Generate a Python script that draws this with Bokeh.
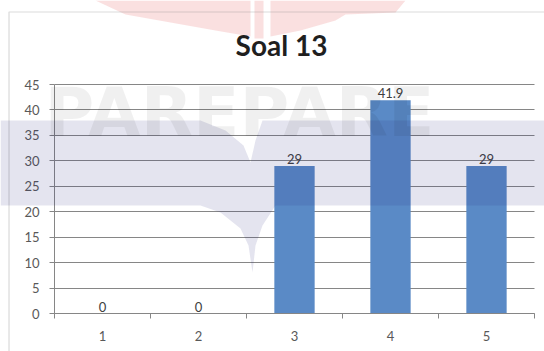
from bokeh.plotting import figure
from bokeh.models import (Range1d, FixedTicker, Label, BoxAnnotation, PolyAnnotation,
                          ColumnDataSource)
from bokeh.core.properties import value
from bokeh.embed import file_html
from bokeh.resources import INLINE

# ---- data -------------------------------------------------------------
categories = ["1", "2", "3", "4", "5"]
scores = [0, 0, 29, 41.9, 29]
y_ticks = [0, 5, 10, 15, 20, 25, 30, 35, 40, 45]
title_text = "Soal 13"
watermark_text = "PAREPARE"

# ---- layout constants (canvas pixels) ---------------------------------
W, H = 544, 351
PL, PR, PT, PB = 54, 534, 84, 313          # plot area edges inside the chart

FONT = "Lato"
AXIS_GRAY = "#868686"
LABEL_GRAY = "#595959"
BAR_BLUE = "#5a8ac6"

n = len(categories)
xs = [i + 1 for i in range(n)]
labels = [f"{v:g}" for v in scores]
src = ColumnDataSource(dict(x=xs, top=scores, label=labels))

# the frame fills the whole canvas; ranges are chosen so that the
# plot area (categories 0.5..n+0.5, values 0..45) lands on PL..PR / PT..PB
x_px = (PR - PL) / n
y_px = (PB - PT) / (y_ticks[-1] - y_ticks[0])
x_range = Range1d(0.5 - PL / x_px, n + 0.5 + (W - PR) / x_px)
y_range = Range1d(-(H - PB) / y_px, PB / y_px)

p = figure(width=W, height=H, output_backend="svg", toolbar_location=None,
           x_range=x_range, y_range=y_range,
           min_border=0, min_border_left=0, min_border_right=0,
           min_border_top=0, min_border_bottom=0)
p.outline_line_color = None
p.background_fill_color = "white"
p.border_fill_color = "white"


def sx(cx):
    """canvas x -> frame screen x"""
    return cx


def sy(cy):
    """canvas y -> frame screen y (upwards from the bottom)"""
    return H - cy


# faint logo shapes behind the chart
pink = "#e03030"
for pts in [
    [(95, 0), (250, 0), (250, 36), (215, 30), (170, 22), (125, 14)],
    [(254, 0), (263, 0), (263, 38), (254, 38)],
    [(270, 0), (405, 0), (395, 12), (345, 14), (335, 20), (300, 30), (270, 36)],
]:
    p.add_layout(PolyAnnotation(xs=[sx(a) for a, _ in pts], ys=[sy(b) for _, b in pts],
                                xs_units="screen", ys_units="screen",
                                fill_color=pink, fill_alpha=0.15, line_color=None,
                                level="underlay"))

# axes, pinned to the plot area
xa = p.xaxis[0]
ya = p.yaxis[0]
xa.fixed_location = y_ticks[0]
ya.fixed_location = 0.5
xa.bounds = (0.5, n + 0.5)
ya.bounds = (y_ticks[0], y_ticks[-1])

xa.ticker = FixedTicker(ticks=xs, minor_ticks=[x - 0.5 for x in xs] + [xs[-1] + 0.5])
xa.major_label_overrides = {x: c for x, c in zip(xs, categories)}
xa.major_tick_out = 0
xa.major_tick_in = 0
xa.minor_tick_out = 5
xa.minor_tick_in = 0
xa.minor_tick_line_color = AXIS_GRAY
xa.major_label_standoff = 12

ya.ticker = FixedTicker(ticks=y_ticks)
ya.major_tick_out = 5
ya.major_tick_in = 0
ya.minor_tick_line_color = None
ya.major_label_standoff = 10

for ax in (xa, ya):
    ax.axis_line_color = AXIS_GRAY
    ax.major_tick_line_color = AXIS_GRAY
    ax.major_label_text_font = FONT
    ax.major_label_text_font_size = "13px"
    ax.major_label_text_color = LABEL_GRAY

p.xgrid.visible = False
p.ygrid.ticker = FixedTicker(ticks=y_ticks)
p.ygrid.bounds = (y_ticks[0], y_ticks[-1])
p.ygrid.cross_bounds = (0.5, n + 0.5)
p.ygrid.grid_line_color = AXIS_GRAY
p.ygrid.grid_line_width = 1

# bars and their value labels
p.vbar(x="x", top="top", width=0.42, source=src, fill_color=BAR_BLUE, line_color=None)
p.text(x="x", y="top", text="label", source=src, text_align="center",
       text_baseline="bottom", y_offset=-2, text_font=value(FONT),
       text_font_size="13px", text_color="#404040")

# translucent watermark band with its spike
band = [(0, 120), (200, 120), (225, 130), (243, 145), (250, 162), (255, 140),
        (262, 120), (W, 120), (W, 205), (275, 205), (262, 225), (255, 245),
        (252, 272), (248, 245), (240, 228), (220, 212), (200, 205), (0, 205)]
p.add_layout(PolyAnnotation(xs=[sx(a) for a, _ in band], ys=[sy(b) for _, b in band],
                            xs_units="screen", ys_units="screen",
                            fill_color="#1e1e78", fill_alpha=0.12, line_color=None,
                            level="overlay"))

p.add_layout(Label(x=sx(44), y=sy(112), x_units="screen", y_units="screen",
                   text=watermark_text, text_font="DejaVu Sans", text_font_style="bold",
                   text_font_size="68px", text_color="black", text_alpha=0.06,
                   text_align="left", text_baseline="alphabetic", level="overlay"))

# chart title
p.add_layout(Label(x=sx(281), y=sy(44), x_units="screen", y_units="screen",
                   text=title_text, text_font=FONT, text_font_style="bold",
                   text_font_size="28px", text_color="#1f1f1f",
                   text_align="center", text_baseline="middle"))

# outer chart border
p.add_layout(BoxAnnotation(left=sx(8.5), right=sx(W + 20), top=sy(11.5), bottom=sy(H + 20),
                           left_units="screen", right_units="screen",
                           top_units="screen", bottom_units="screen",
                           fill_alpha=0, line_color=AXIS_GRAY, line_width=1.2))

open("out.html", "w").write(file_html(p, INLINE))
